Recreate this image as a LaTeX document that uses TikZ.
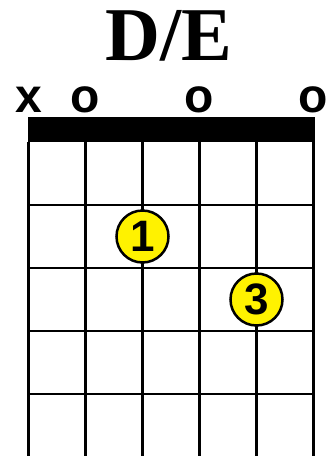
\documentclass[tikz,border=0pt]{standalone}
\usepackage{fontspec}
\setmainfont{Liberation Serif}
\newfontfamily\chordsans{Liberation Sans}

\begin{document}
\begin{tikzpicture}[
    x=1pt, y=-1pt,
    gridline/.style={line width=2.5pt},
    fingerdot/.style={circle, draw, line width=2.5pt, fill=yellow, minimum size=52pt, inner sep=0pt,
      font=\chordsans\bfseries\fontsize{44}{44}\selectfont},
    stringmark/.style={anchor=base, inner sep=0pt, font=\chordsans\bfseries\fontsize{48}{48}\selectfont}
  ]
    \useasboundingbox (0,0) rectangle (335,456);

    % Chord name
    \node[anchor=base, inner sep=0pt, font=\bfseries\fontsize{76}{76}\selectfont] (title) at (168.5,60) {D/E};

    % Muted / open strings
    \node[stringmark] (mute6) at (28.5,112) {x};
    \node[stringmark] (open5) at (85.5,112) {o};
    \node[stringmark] (open3) at (199.5,112) {o};
    \node[stringmark] (open1) at (313.5,112) {o};

    % Nut
    \fill (27.5,117) rectangle (315,142);

    % Strings and frets
    \foreach \s in {0,...,5}
      \draw[gridline] (28.5+57*\s,142) -- (28.5+57*\s,460);
    \foreach \f in {1,...,4}
      \draw[gridline] (28.5,142+63*\f) -- (313.5,142+63*\f);

    % Fingers
    \node[fingerdot] (finger1) at (142.5,236.5) {1};
    \node[fingerdot] (finger3) at (256.5,299.5) {3};
  \end{tikzpicture}
\end{document}
